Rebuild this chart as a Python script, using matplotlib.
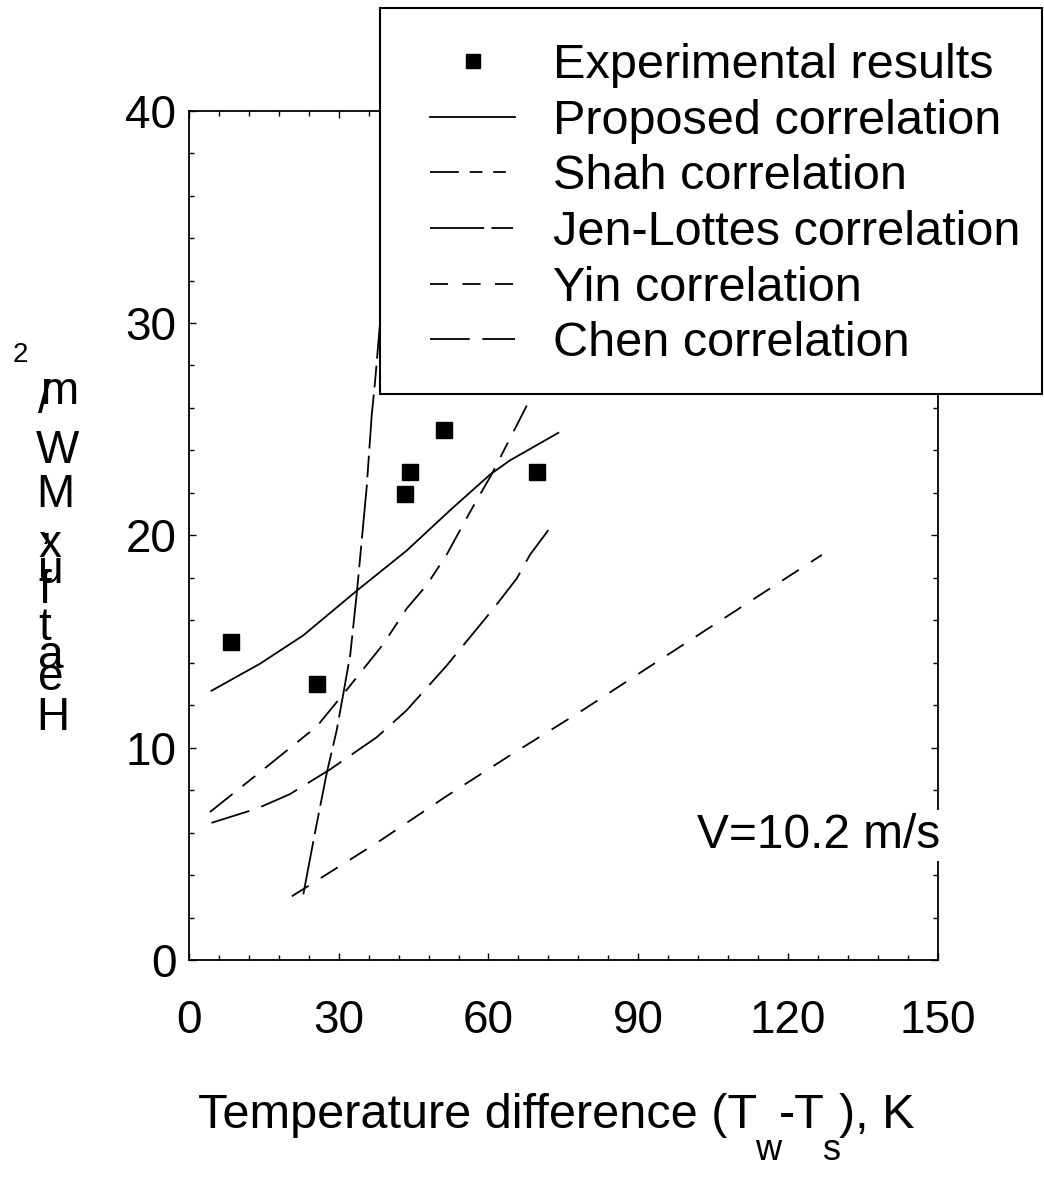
import numpy as np
import matplotlib
matplotlib.use("Agg")
import matplotlib.pyplot as plt
from matplotlib.lines import Line2D
from matplotlib.patches import Rectangle

plt.rcParams['font.family'] = ['Liberation Sans', 'DejaVu Sans']

# experimental points (K, MW/m2)
exp_x = [8.4, 25.6, 43.3, 44.3, 51.1, 69.7]
exp_y = [15.0, 13.0, 21.95, 23.0, 24.96, 23.0]

# correlations
prop_x = [4.5, 14.2, 22.9, 33.6, 43.6, 52.3, 60.3, 64.3, 74.0]
prop_y = [12.68, 13.95, 15.29, 17.39, 19.28, 21.18, 22.86, 23.53, 24.83]

shah_x = [4.2, 13.6, 25.6, 30.9, 38.9, 43.6, 47.6, 51.6, 56.3, 60.6, 65.7, 68.3, 72.0]
shah_y = [6.97, 8.73, 11.0, 12.52, 14.87, 16.55, 17.65, 19.08, 21.1, 22.86, 25.2, 26.4, 28.2]

jl_x = [22.9, 25.2, 27.6, 29.6, 30.9, 32.3, 33.6, 34.6, 35.6, 36.6, 37.3, 38.2, 39.5]
jl_y = [3.09, 5.95, 8.81, 10.83, 12.52, 14.37, 17.23, 19.75, 22.27, 25.64, 27.3, 29.8, 33.0]

yin_x = [20.6, 38.3, 51.6, 65.0, 78.3, 100.0, 126.8]
yin_y = [3.0, 5.62, 7.72, 9.74, 11.68, 15.0, 19.08]

chen_x = [4.5, 13.6, 20.2, 28.3, 37.6, 43.6, 51.6, 61.0, 65.7, 68.3, 72.0]
chen_y = [6.46, 7.13, 7.81, 8.98, 10.49, 11.76, 13.86, 16.55, 17.98, 19.08, 20.25]

labels = ["Experimental results", "Proposed correlation", "Shah correlation",
          "Jen-Lottes correlation", "Yin correlation", "Chen correlation"]

W, H = 1044, 1184
fig = plt.figure(figsize=(W / 100, H / 100), dpi=100)
ax = fig.add_axes([189 / W, 1 - 960 / H, (937.7 - 189) / W, (960 - 110.7) / H])

lw = 1.3
ls_shah = (0, (16, 6, 7, 6, 7, 6, 2, 6))
ls_jl = (0, (30, 4, 12, 4))
ls_yin = (0, (10, 8))
ls_chen = (0, (22, 7))

ax.plot(prop_x, prop_y, color='black', lw=lw, ls='-')
ax.plot(shah_x, shah_y, color='black', lw=lw, ls=(0, (16, 7, 9, 7)))
ax.plot(jl_x, jl_y, color='black', lw=lw, ls=ls_jl)
ax.plot(yin_x, yin_y, color='black', lw=lw, ls=(0, (11, 8)))
ax.plot(chen_x, chen_y, color='black', lw=lw, ls=ls_chen)
ax.plot(exp_x, exp_y, ls='none', marker='s', ms=12, color='black')

ax.set_xlim(0, 150)
ax.set_ylim(0, 40)
ax.set_xticks([0, 30, 60, 90, 120, 150])
ax.set_yticks([0, 10, 20, 30, 40])
ax.set_xticks(np.arange(0, 151, 6), minor=True)
ax.set_yticks(np.arange(0, 41, 2), minor=True)
ax.tick_params(which='both', direction='in', top=True, right=True, width=1)
ax.tick_params(which='major', length=5, labelsize=33)
ax.tick_params(axis='x', which='major', pad=28)
ax.tick_params(axis='y', which='major', pad=9)
ax.tick_params(which='minor', length=3.5)
for s in ax.spines.values():
    s.set_linewidth(1.3)

ax.text(101.8, 5.28, "V=10.2 m/s", fontsize=34.5, va='baseline', ha='left',
        bbox=dict(facecolor='white', edgecolor='none', pad=2), zorder=5)

# x label, pieces chained left to right so the subscripts can sit low
renderer = fig.canvas.get_renderer()
pieces = [("Temperature difference (T", 35, 1128), ("w", 26, 1160), ("-T", 35, 1128),
          ("s", 26, 1160), ("), K", 35, 1128)]
xpos = 198
for txt, fs, base in pieces:
    t = fig.text(xpos / W, 1 - base / H, txt, fontsize=fs, ha='left', va='baseline')
    xpos += t.get_window_extent(renderer).width - 2

# y label, as it appears in the picture: upright letters stacked
ychars = [("m", 40, 404), ("/", 38, 413), ("W", 36, 463), ("M", 36, 507),
          (",", 40, 538), ("x", 38, 557), ("u", 38, 583), ("l", 40, 603),
          ("f", 38, 603), ("t", 38, 640), ("a", 38, 668), ("e", 38, 690),
          ("H", 36, 730)]
for ch, px, py in ychars:
    fig.text(px / W, 1 - py / H, ch, fontsize=33, ha='left', va='baseline')
fig.text(13 / W, 1 - 362 / H, "2", fontsize=20, ha='left', va='baseline')

# legend box sits over the top of the axes
fig.add_artist(Rectangle((380 / W, 1 - 394 / H), (1042 - 380) / W, (394 - 8) / H,
                         transform=fig.transFigure, facecolor='white',
                         edgecolor='black', lw=1.5, zorder=3))
handles = [
    Line2D([], [], ls='none', marker='s', ms=10, color='black'),
    Line2D([], [], color='black', lw=lw, ls='-'),
    Line2D([], [], color='black', lw=lw, ls=ls_shah),
    Line2D([], [], color='black', lw=lw, ls=ls_jl),
    Line2D([], [], color='black', lw=lw, ls=ls_yin),
    Line2D([], [], color='black', lw=lw, ls=ls_chen),
]
fig.legend(handles, labels, loc='upper left', bbox_to_anchor=(430 / W, 1 - 43 / H),
           frameon=False, fontsize=35, handlelength=1.75, handletextpad=0.78,
           labelspacing=0.22, borderpad=0, borderaxespad=0)

fig.savefig("out.png", dpi=100)
